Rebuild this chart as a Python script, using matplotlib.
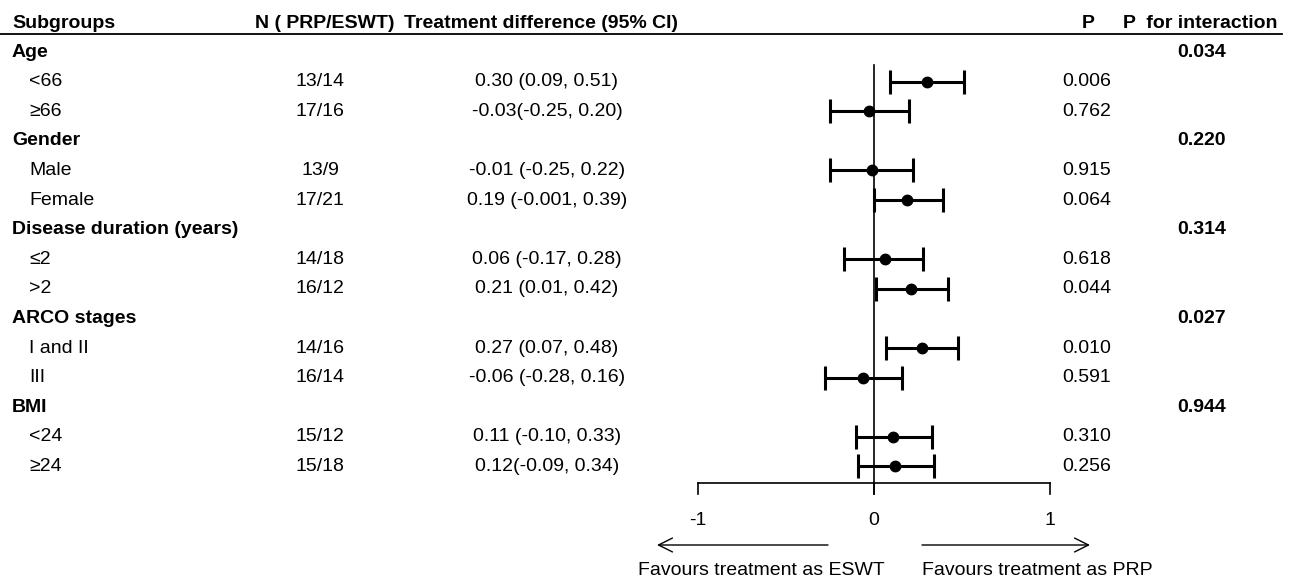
import matplotlib
matplotlib.use("Agg")
import matplotlib.pyplot as plt

plt.rcParams['font.family'] = ['Liberation Sans', 'DejaVu Sans']

# ---- data -------------------------------------------------------------
groups = ["Age", "Gender", "Disease duration (years)", "ARCO stages", "BMI"]
group_p_interaction = ["0.034", "0.220", "0.314", "0.027", "0.944"]
subgroups = [["<66", "≥66"], ["Male", "Female"], ["≤2", ">2"],
             ["I and II", "III"], ["<24", "≥24"]]
n_counts = [["13/14", "17/16"], ["13/9", "17/21"], ["14/18", "16/12"],
            ["14/16", "16/14"], ["15/12", "15/18"]]
estimates = [[0.30, -0.03], [-0.01, 0.19], [0.06, 0.21], [0.27, -0.06], [0.11, 0.12]]
ci_low = [[0.09, -0.25], [-0.25, -0.001], [-0.17, 0.01], [0.07, -0.28], [-0.10, -0.09]]
ci_high = [[0.51, 0.20], [0.22, 0.39], [0.28, 0.42], [0.48, 0.16], [0.33, 0.34]]
ci_text = [["0.30 (0.09, 0.51)", "-0.03(-0.25, 0.20)"],
           ["-0.01 (-0.25, 0.22)", "0.19 (-0.001, 0.39)"],
           ["0.06 (-0.17, 0.28)", "0.21 (0.01, 0.42)"],
           ["0.27 (0.07, 0.48)", "-0.06 (-0.28, 0.16)"],
           ["0.11 (-0.10, 0.33)", "0.12(-0.09, 0.34)"]]
p_values = [["0.006", "0.762"], ["0.915", "0.064"], ["0.618", "0.044"],
            ["0.010", "0.591"], ["0.310", "0.256"]]
x_ticks = [-1, 0, 1]

# ---- layout (pixels of a 1292x582 canvas) ------------------------------
W, H = 1292, 582
X0, XSCALE = 874, 176          # pixel of effect 0, pixels per unit
ROW0, ROWH = 52, 29.6          # pixel of first row, row height
FS = 14


def py(pix):
    """pixel y -> row coordinate"""
    return (pix - ROW0) / ROWH


def px(pix):
    """pixel x -> effect coordinate"""
    return (pix - X0) / XSCALE


fig = plt.figure(figsize=(W / 100, H / 100), dpi=100)
ax = fig.add_axes([0, 0, 1, 1])
ax.set_xlim(px(0), px(W))
ax.set_ylim(py(H), py(0))
ax.axis('off')

# header
hy = py(23)
ax.text(px(12), hy, "Subgroups", fontsize=FS, fontweight='bold', va='center', ha='left')
ax.text(px(255), hy, "N ( PRP/ESWT)", fontsize=FS, fontweight='bold', va='center', ha='left')
ax.text(px(404), hy, "Treatment difference (95% CI)", fontsize=FS, fontweight='bold', va='center', ha='left')
ax.text(px(1088), hy, "P", fontsize=FS, fontweight='bold', va='center', ha='center')
ax.text(px(1123), hy, "P  for interaction", fontsize=FS, fontweight='bold', va='center', ha='left')
ax.plot([px(0), px(1282)], [py(34), py(34)], color='black', lw=1.3)

row = 0
for g, grp in enumerate(groups):
    ax.text(px(12), row, grp, fontsize=FS, fontweight='bold', va='center', ha='left')
    ax.text(px(1202), row, group_p_interaction[g], fontsize=FS, fontweight='bold',
            va='center', ha='center')
    row += 1
    for k, sub in enumerate(subgroups[g]):
        ax.text(px(29), row, sub, fontsize=FS, va='center', ha='left')
        ax.text(px(320), row, n_counts[g][k], fontsize=FS, va='center', ha='center')
        ax.text(px(547), row, ci_text[g][k], fontsize=FS, va='center', ha='center')
        ax.text(px(1087), row, p_values[g][k], fontsize=FS, va='center', ha='center')
        est = estimates[g][k]
        ax.errorbar(est, row,
                    xerr=[[est - ci_low[g][k]], [ci_high[g][k] - est]],
                    fmt='o', color='black', ms=7.5, elinewidth=2.2,
                    capsize=8.5, capthick=2.2)
        row += 1

# zero line and axis
ax.plot([0, 0], [py(65), py(494)], color='black', lw=1.2)
ax.plot([x_ticks[0], x_ticks[-1]], [py(483), py(483)], color='black', lw=1.2)
for t in x_ticks:
    ax.plot([t, t], [py(483), py(494)], color='black', lw=1.2)
    ax.text(t, py(520), f"{t}", fontsize=FS, va='center', ha='center')

# direction arrows
ay = py(545)
head = '->,head_length=1.0,head_width=0.5'
ax.annotate("", xy=(px(657), ay), xytext=(px(828), ay),
            arrowprops=dict(arrowstyle=head, lw=1, color='black', shrinkA=0, shrinkB=0))
ax.annotate("", xy=(px(1090), ay), xytext=(px(922), ay),
            arrowprops=dict(arrowstyle=head, lw=1, color='black', shrinkA=0, shrinkB=0))
ax.text(px(638), py(570), "Favours treatment as ESWT", fontsize=FS, va='center', ha='left')
ax.text(px(922), py(570), "Favours treatment as PRP", fontsize=FS, va='center', ha='left')

fig.savefig("out.png", dpi=100)
